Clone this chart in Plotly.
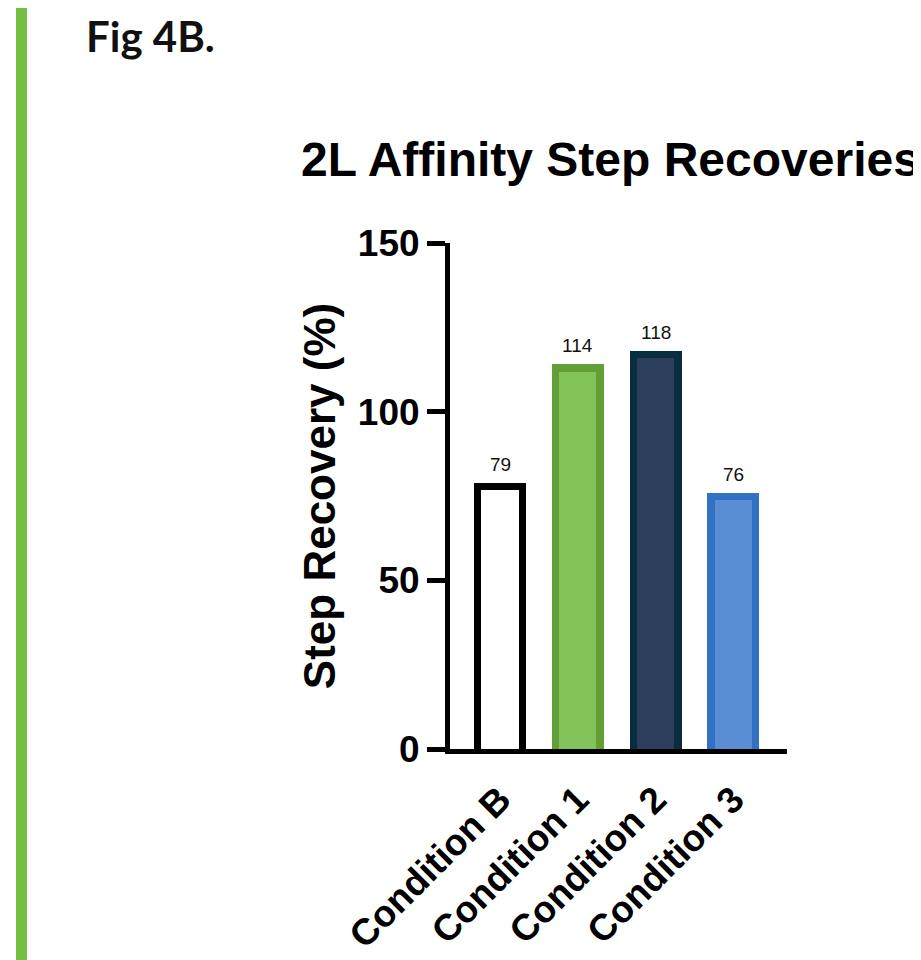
import plotly.graph_objects as go

# ---- data ----
categories = ["Condition B", "Condition 1", "Condition 2", "Condition 3"]
recovery = [79, 114, 118, 76]
value_labels = ["79", "114", "118", "76"]
y_ticks = [0, 50, 100, 150]

# ---- styles ----
fill_colors = ["#FFFFFF", "#82C45A", "#2C3E5C", "#5B8DD4"]
border_colors = ["#000000", "#62A037", "#082D3E", "#3272C4"]
FONT = "Liberation Sans, Arial, Helvetica, sans-serif"

OFF = 8  # page body margin
W, H = 921 - OFF, 960 - OFF
# plot area target (page pixels): x 450..787, y 243..749
ML = 450 - OFF
MR = W - (787 - OFF)
MT = 243 - OFF
MB = H - (749 - OFF)
PW, PH = W - ML - MR, H - MT - MB
Y_MAX = 150
border_units = 7.3 * Y_MAX / PH  # bar border thickness in y units


def px_x(px):
    return (px - OFF - ML) / PW


def px_y(py):
    return (H - MB - (py - OFF)) / PH


fig = go.Figure()
fig.add_trace(go.Bar(
    x=categories, y=recovery, width=0.669,
    marker=dict(color=border_colors, line=dict(width=0)),
    showlegend=False, hoverinfo="skip",
))
fig.add_trace(go.Bar(
    x=categories, y=[v - border_units for v in recovery], width=0.478,
    marker=dict(color=fill_colors, line=dict(width=0)),
    showlegend=False,
))

for c, v, t in zip(categories, recovery, value_labels):
    fig.add_annotation(x=c, y=v, text=t, showarrow=False, yanchor="bottom",
                       yshift=6, font=dict(family=FONT, size=19, color="#111111"))

# figure label
fig.add_annotation(xref="paper", yref="paper", x=px_x(84), y=px_y(36),
                   xanchor="left", yanchor="middle", text="Fig 4B.", showarrow=False,
                   font=dict(family="Lato, Noto Sans, sans-serif", size=42,
                             color="#111111", weight="bold"))
# title
fig.add_annotation(xref="paper", yref="paper", x=px_x(299), y=px_y(159),
                   xanchor="left", yanchor="middle", text="2L Affinity Step Recoveries",
                   showarrow=False,
                   font=dict(family=FONT, size=48, color="#000000", weight="bold"))

# green side strip
fig.add_shape(type="rect", xref="paper", yref="paper",
              x0=px_x(16), x1=px_x(27), y0=px_y(970), y1=px_y(-10),
              fillcolor="#72BF44", line=dict(width=0), layer="below")

fig.update_layout(
    width=W, height=H,
    margin=dict(l=ML, r=MR, t=MT, b=MB, pad=0, autoexpand=False),
    paper_bgcolor="white", plot_bgcolor="white",
    barmode="overlay", bargap=0,
    showlegend=False,
)
fig.update_xaxes(
    type="category", range=[-0.643, 3.69], automargin=False,
    showline=True, linecolor="black", linewidth=5,
    ticks="", tickangle=-45, ticklabelstandoff=9,
    tickfont=dict(family=FONT, size=37, color="black", weight="bold"),
    showgrid=False, zeroline=False,
)
fig.update_yaxes(
    range=[0, Y_MAX], tickvals=y_ticks, automargin=False,
    showline=True, linecolor="black", linewidth=5,
    ticks="outside", ticklen=18, tickwidth=5, tickcolor="black",
    tickfont=dict(family=FONT, size=37, color="black", weight="bold"),
    title=dict(text="Step Recovery (%)", standoff=10,
               font=dict(family=FONT, size=44, color="black", weight="bold")),
    showgrid=False, zeroline=False,
)

fig.write_html("out.html")
